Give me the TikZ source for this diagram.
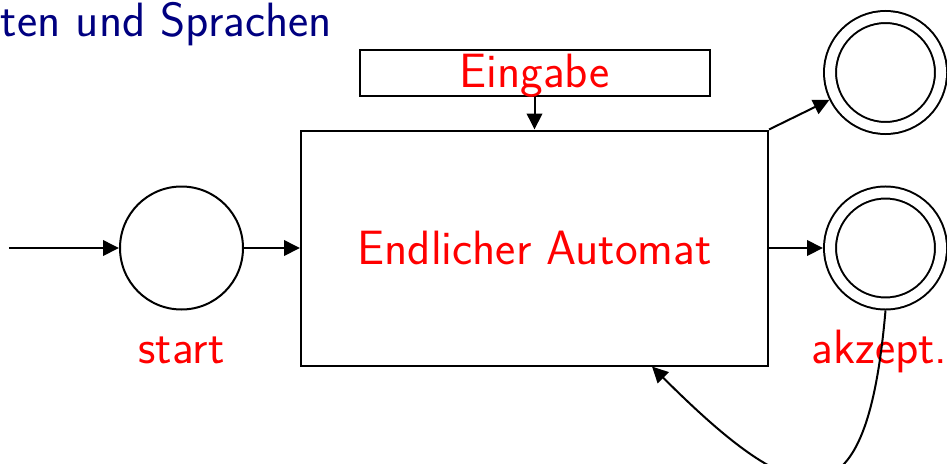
\documentclass[tikz,border=0pt]{standalone}
\usepackage{amsmath}
\usepackage{amssymb}
\usepackage{tikz}
\usetikzlibrary{arrows,arrows.meta,positioning,automata,calc,shapes}

\definecolor{titleblue}{RGB}{0,0,128}

\begin{document}
\begin{tikzpicture}[->,>={Triangle[length=3.2mm,width=3.1mm]},line width=0.4mm,auto,
                    font=\sffamily\fontsize{27.4}{32}\selectfont]
  \tikzstyle{every state}=[draw,circle,inner sep=0pt,minimum size=24.6mm,outer sep=0.2mm]
  \tikzstyle{final}=[state,double,double distance=2mm,minimum size=22.2mm,outer sep=1.4mm]
  \tikzstyle{box}=[draw,rectangle,text=red,inner sep=0pt,outer sep=0.2mm]
  \tikzstyle{lbl}=[text=red,inner sep=0pt]

  \useasboundingbox (-36.3mm,-43mm) rectangle (153.1mm,49.6mm);

  \node[state]				(S)  at (0,0)			{};
  \node[box,minimum width=93.4mm,minimum height=47mm]	(A)  [right=11.2mm of S]	{Endlicher Automat};
  \node[box,minimum width=70mm,minimum height=9.2mm,text depth=3pt]	(E)  [above=6.5mm of A]		{Eingabe};
  \node[final]				(F1) [right=10.8mm of A]	{};
  \node[final]				(F2) [above=10.1mm of F1]	{};

  \node[lbl,anchor=base]		(ls) [below=10.6mm of S,anchor=base]	{start};
  \node[lbl,anchor=base]		(la) [below=10.6mm of F1,anchor=base,xshift=-1.2mm]	{akzept.};

  \node[text=titleblue,anchor=base west,inner sep=0pt]	(T)  at (-36.3mm,42.2mm)	{ten und Sprachen};

  \coordinate[left=22mm of S]		(in);

  \path (in) edge 		(S);
  \path (S)  edge 		(A);
  \path (E)  edge 		(A);
  \path (A)  edge 		(F1);
  \draw (A.north east) -- (F2);
  \draw (F1.south) to[out=-95,in=-45,looseness=2.3] ([xshift=23.5mm]A.south);

\end{tikzpicture}
\end{document}
